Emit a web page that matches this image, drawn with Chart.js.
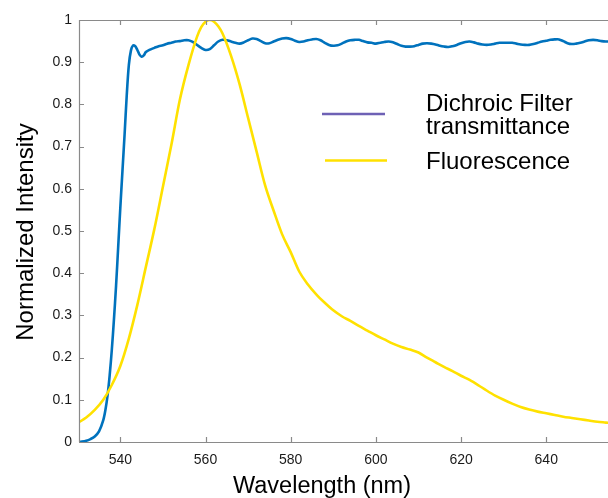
<!DOCTYPE html>
<html>
<head>
<meta charset="utf-8">
<title>Dichroic filter transmittance and fluorescence</title>
<script src="https://cdn.jsdelivr.net/npm/chart.js@4.4.1/dist/chart.umd.min.js"></script>
<style>
  html, body { margin: 0; padding: 0; background: #ffffff; }
  canvas { display: block; }
</style>
</head>
<body>
<canvas id="spectra" width="608" height="498"></canvas>
<script>
// Wavelength limits and tick values (nm)
const xLimits = [530.3, 654.5];
const xTicks = [540, 560, 580, 600, 620, 640];
const yLimits = [0, 1];
const yTicks = [0, 0.1, 0.2, 0.3, 0.4, 0.5, 0.6, 0.7, 0.8, 0.9, 1];

// Dichroic filter transmittance: wavelength (nm) and normalized value
const filterWavelength = [
  530, 531, 532, 533, 534, 535, 536, 536.5, 537, 537.5, 538, 538.5, 539, 539.5,
  540, 540.5, 541, 541.5, 542, 542.5, 543, 543.5, 544, 544.5, 545, 545.5, 546,
  547, 548, 549, 550, 551, 552, 553, 554, 555, 556, 557, 558, 559, 560,
  561, 562, 563, 564, 565, 566, 567, 568, 569, 570, 571, 572, 573, 574, 575,
  576, 577, 578, 579, 580, 581, 582, 583, 584, 585, 586, 587, 588, 589, 590,
  591, 592, 593, 594, 595, 596, 597, 598, 599, 600, 601, 602, 603, 604, 605,
  606, 607, 608, 609, 610, 611, 612, 613, 614, 615, 616, 617, 618, 619, 620,
  621, 622, 623, 624, 625, 626, 627, 628, 629, 630, 631, 632, 633, 634, 635,
  636, 637, 638, 639, 640, 641, 642, 643, 644, 645, 646, 647, 648, 649, 650,
  651, 652, 653, 654, 655
];
const filterTransmittance = [
  0.000, 0.001, 0.003, 0.007, 0.013, 0.025, 0.052, 0.076, 0.110, 0.158, 0.218, 0.290, 0.370, 0.462,
  0.555, 0.642, 0.728, 0.820, 0.893, 0.928, 0.940, 0.938, 0.929, 0.918, 0.913, 0.916, 0.924,
  0.930, 0.934, 0.938, 0.940, 0.944, 0.946, 0.949, 0.950, 0.952, 0.952, 0.948, 0.941, 0.934, 0.929,
  0.931, 0.940, 0.949, 0.953, 0.952, 0.949, 0.946, 0.944, 0.947, 0.952, 0.956, 0.955, 0.950, 0.945, 0.945,
  0.949, 0.953, 0.956, 0.957, 0.955, 0.951, 0.948, 0.949, 0.952, 0.954, 0.955, 0.952, 0.946, 0.941, 0.939,
  0.940, 0.944, 0.949, 0.952, 0.953, 0.953, 0.950, 0.947, 0.946, 0.944, 0.946, 0.948, 0.949, 0.947, 0.943,
  0.939, 0.937, 0.937, 0.938, 0.941, 0.944, 0.945, 0.944, 0.942, 0.939, 0.937, 0.936, 0.938, 0.941, 0.945,
  0.948, 0.949, 0.947, 0.944, 0.942, 0.941, 0.942, 0.944, 0.946, 0.946, 0.946, 0.946, 0.944, 0.942, 0.941,
  0.941, 0.943, 0.946, 0.949, 0.951, 0.953, 0.954, 0.954, 0.950, 0.945, 0.943, 0.944, 0.946, 0.949, 0.952,
  0.953, 0.952, 0.950, 0.949, 0.949
];

// Fluorescence emission: wavelength (nm) and normalized intensity
const fluorWavelength = [
  530, 532, 534, 536, 538, 540, 542, 544, 546, 548, 550, 552, 554, 556, 558,
  559, 560, 561, 562, 563, 564, 566, 568, 570, 572, 574, 576, 578, 580, 582,
  584, 586, 588, 590, 592, 594, 596, 598, 600, 602, 604, 606, 608, 610, 612,
  614, 616, 618, 620, 622, 624, 626, 628, 630, 632, 634, 636, 638, 640, 642,
  644, 646, 648, 650, 652, 654, 655
];
const fluorIntensity = [
  0.045, 0.058, 0.076, 0.100, 0.135, 0.180, 0.245, 0.325, 0.415, 0.505, 0.605, 0.705, 0.812, 0.893, 0.960,
  0.983, 0.996, 1.000, 0.996, 0.985, 0.968, 0.915, 0.848, 0.768, 0.688, 0.608, 0.548, 0.492, 0.450, 0.404,
  0.374, 0.350, 0.330, 0.312, 0.298, 0.287, 0.275, 0.264, 0.253, 0.243, 0.233, 0.225, 0.219, 0.212, 0.200,
  0.189, 0.178, 0.168, 0.157, 0.147, 0.135, 0.122, 0.110, 0.100, 0.091, 0.083, 0.077, 0.072, 0.068, 0.064,
  0.060, 0.057, 0.054, 0.051, 0.048, 0.046, 0.045
];

const seriesNames = ['Dichroic Filter\ntransmittance', 'Fluorescence'];
const axisTitles = { x: 'Wavelength (nm)', y: 'Normalized Intensity' };

const FONT = '"Liberation Sans", Arial, Helvetica, sans-serif';
const AXIS_GRAY = '#8a8a8a';
const BLUE = '#0072bd';
const YELLOW = '#ffe100';
const LEGEND_PURPLE = '#6e61b5';

const pairs = (xs, ys) => xs.map((v, i) => ({ x: v, y: ys[i] }));

// Frame, inward tick marks, axis titles and the legend
const decor = {
  id: 'decor',
  afterDatasetsDraw(chart) {
    const { ctx, chartArea: a, scales: { x, y } } = chart;
    ctx.save();
    ctx.strokeStyle = AXIS_GRAY;
    ctx.lineWidth = 1.2;
    ctx.beginPath();
    ctx.moveTo(a.left + 0.5, a.bottom);
    ctx.lineTo(a.left + 0.5, a.top + 0.5);
    ctx.lineTo(a.right, a.top + 0.5);
    ctx.moveTo(a.left, a.bottom + 0.5);
    ctx.lineTo(a.right, a.bottom + 0.5);
    const len = 5;
    xTicks.forEach(v => {
      const px = Math.round(x.getPixelForValue(v)) + 0.5;
      ctx.moveTo(px, a.bottom); ctx.lineTo(px, a.bottom - len);
      ctx.moveTo(px, a.top); ctx.lineTo(px, a.top + len);
    });
    yTicks.forEach(v => {
      const py = Math.round(y.getPixelForValue(v)) + 0.5;
      ctx.moveTo(a.left, py); ctx.lineTo(a.left + len, py);
    });
    ctx.stroke();
    ctx.restore();
  },
  afterDraw(chart) {
    const { ctx, chartArea: a } = chart;
    ctx.save();
    ctx.fillStyle = '#000000';

    // x-axis title
    ctx.font = '23.5px ' + FONT;
    ctx.textAlign = 'center';
    ctx.textBaseline = 'alphabetic';
    ctx.fillText(axisTitles.x, 322, 493);

    // y-axis title, rotated
    ctx.save();
    ctx.translate(32.5, (a.top + a.bottom) / 2 + 1);
    ctx.rotate(-Math.PI / 2);
    ctx.font = '24px ' + FONT;
    ctx.fillText(axisTitles.y, 0, 0);
    ctx.restore();

    // legend
    ctx.lineWidth = 2.5;
    ctx.strokeStyle = LEGEND_PURPLE;
    ctx.beginPath(); ctx.moveTo(322, 114); ctx.lineTo(385, 114); ctx.stroke();
    ctx.strokeStyle = YELLOW;
    ctx.beginPath(); ctx.moveTo(325, 160.5); ctx.lineTo(387, 160.5); ctx.stroke();

    ctx.font = '24px ' + FONT;
    ctx.textAlign = 'left';
    const lines = seriesNames[0].split('\n');
    ctx.fillText(lines[0], 426, 111);
    ctx.fillText(lines[1], 426, 134);
    ctx.fillText(seriesNames[1], 426, 169);
    ctx.restore();
  }
};

new Chart(document.getElementById('spectra'), {
  type: 'line',
  data: {
    datasets: [
      {
        label: seriesNames[1],
        data: pairs(fluorWavelength, fluorIntensity),
        borderColor: YELLOW,
        borderWidth: 2.6,
        pointRadius: 0,
        cubicInterpolationMode: 'monotone',
        fill: false,
        order: 0
      },
      {
        label: seriesNames[0],
        data: pairs(filterWavelength, filterTransmittance),
        borderColor: BLUE,
        borderWidth: 2.6,
        pointRadius: 0,
        tension: 0.3,
        fill: false,
        order: 1
      }
    ]
  },
  options: {
    responsive: false,
    animation: false,
    devicePixelRatio: 1,
    layout: { padding: { top: 20, right: 0, bottom: 0, left: 0 } },
    plugins: { legend: { display: false }, tooltip: { enabled: false } },
    scales: {
      x: {
        type: 'linear',
        min: xLimits[0],
        max: xLimits[1],
        grid: { display: false, drawTicks: false },
        border: { display: false },
        afterBuildTicks: s => { s.ticks = xTicks.map(v => ({ value: v })); },
        afterFit: s => { s.height = 56; },
        ticks: {
          autoSkip: false,
          maxRotation: 0,
          padding: 10,
          color: '#1a1a1a',
          font: { family: FONT, size: 14 },
          callback: v => String(v)
        }
      },
      y: {
        type: 'linear',
        min: yLimits[0],
        max: yLimits[1],
        grid: { display: false, drawTicks: false },
        border: { display: false },
        afterBuildTicks: s => { s.ticks = yTicks.map(v => ({ value: v })); },
        afterFit: s => { s.width = 79; },
        ticks: {
          padding: 7,
          color: '#1a1a1a',
          font: { family: FONT, size: 14 },
          callback: v => String(Math.round(v * 10) / 10)
        }
      }
    }
  },
  plugins: [decor]
});
</script>
</body>
</html>
